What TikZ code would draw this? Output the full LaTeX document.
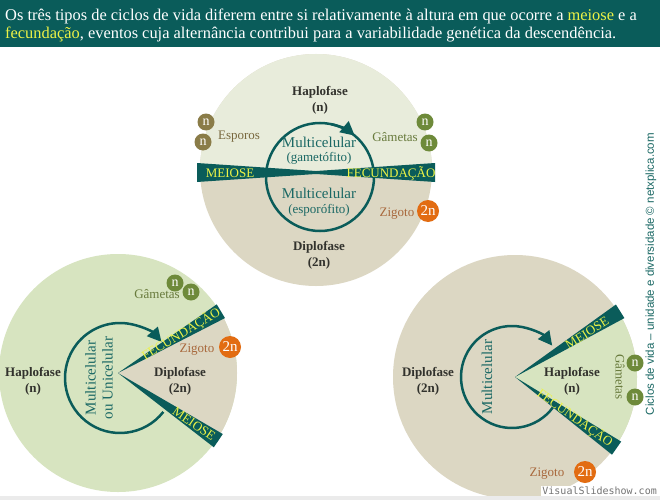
\documentclass[tikz,border=0pt]{standalone}
\usepackage{fontspec}
\setmainfont{Liberation Serif}
\newfontfamily\sidefont{Liberation Sans}
\newfontfamily\wmfont{DejaVu Sans Mono}
\usetikzlibrary{arrows.meta,calc}
\definecolor{tealA}{RGB}{10,92,90}
\definecolor{tealT}{RGB}{26,104,100}
\definecolor{paleG}{RGB}{232,236,219}
\definecolor{greenS}{RGB}{215,228,192}
\definecolor{tanC}{RGB}{220,215,195}
\definecolor{darkT}{RGB}{50,50,45}
\definecolor{yelL}{RGB}{236,242,70}
\definecolor{sporoT}{RGB}{120,104,62}
\definecolor{sporoC}{RGB}{138,124,72}
\definecolor{gamT}{RGB}{104,122,60}
\definecolor{gamC}{RGB}{110,138,58}
\definecolor{zigT}{RGB}{168,104,60}
\definecolor{zigC}{RGB}{226,108,18}
\tikzset{
  bandlbl/.style={text=yelL, inner sep=0pt, font=\fontsize{13}{13}\selectfont},
  phase/.style={text=darkT, align=center, font=\bfseries\fontsize{13}{16}\selectfont},
  innertxt/.style={text=tealT, align=center},
  ncirc/.style={circle, text=white, minimum size=17pt, inner sep=0pt, font=\fontsize{14}{14}\selectfont},
  zcirc/.style={circle, fill=zigC, text=white, minimum size=22pt, inner sep=0pt, font=\fontsize{15}{15}\selectfont},
  lbl/.style={inner sep=0pt, font=\fontsize{13}{13}\selectfont},
  cyc/.style={draw=tealA, line width=2.5pt},
  cycarr/.style={draw=tealA, line width=2.5pt, -{Triangle[length=14pt,width=14pt]}}
}
\begin{document}
\begin{tikzpicture}[x=1pt,y=-1pt]
\useasboundingbox (0,0) rectangle (660,500);
\fill[white] (0,0) rectangle (660,500);
% header
\fill[tealA] (0,0) rectangle (660,47);
\node[anchor=base west, text=white, inner sep=0pt, font=\fontsize{16.4}{16.4}\selectfont] (h1) at (5,21)
  {Os três tipos de ciclos de vida diferem entre si relativamente à altura em que ocorre a \textcolor{yelL}{meiose} e a};
\node[anchor=base west, text=white, inner sep=0pt, font=\fontsize{16.4}{16.4}\selectfont] (h2) at (5,39)
  {\textcolor{yelL}{fecundação}, eventos cuja alternância contribui para a variabilidade genética da descendência.};

% ---------- top circle ----------
\coordinate (T) at (316,170);
\fill[tanC] (T) circle (116);
\begin{scope}
  \clip (0,0) rectangle (660,172);
  \fill[paleG] (T) circle (116);
\end{scope}
\fill[tealA] (197,163) -- (197,182) -- (338,172.5) -- cycle;
\fill[tealA] (435,163) -- (435,182) -- (294,172.5) -- cycle;
\coordinate (Ti) at (320,177);
\draw[cyc] (Ti) circle (54);
\draw[cycarr] ($(Ti)+(-78:54)$) arc[start angle=-78, end angle=-50, radius=54];
\node[bandlbl] (tmei) at (230,173) {MEIOSE};
\node[bandlbl] (tfec) at (391,173) {FECUNDAÇÃO};
\node[phase] (thap) at (320,100) {Haplofase\\(n)};
\node[phase] (tdip) at (319,255) {Diplofase\\(2n)};
\node[innertxt, font=\fontsize{15}{15}\selectfont] (tm1) at (319,142) {Multicelular};
\node[innertxt, font=\fontsize{13}{13}\selectfont] (tg1) at (319,158) {(gametófito)};
\node[innertxt, font=\fontsize{15}{15}\selectfont] (tm2) at (319,193) {Multicelular};
\node[innertxt, font=\fontsize{13}{13}\selectfont] (tg2) at (319,210) {(esporófito)};
\node[lbl, text=sporoT] (tesp) at (239,137) {Esporos};
\node[ncirc, fill=sporoC] (tn1) at (206,122) {n};
\node[ncirc, fill=sporoC] (tn2) at (203,142) {n};
\node[lbl, text=gamT] (tgam) at (395,137) {Gâmetas};
\node[ncirc, fill=gamC] (tn3) at (425,122) {n};
\node[ncirc, fill=gamC] (tn4) at (429,143) {n};
\node[lbl, text=zigT] (tzig) at (397,214) {Zigoto};
\node[zcirc] (tz) at (428,211) {2n};

% ---------- left circle ----------
\coordinate (L) at (118,373);
\fill[greenS] (L) circle (119);
\fill[tanC] (L) -- ($(L)+(-31:119)$) arc[start angle=-31, end angle=31, radius=119] -- cycle;
\fill[tealA] (L) -- ($(L)+(-31:120)+(59:8)$) -- ($(L)+(-31:120)+(-121:8)$) -- cycle;
\fill[tealA] (L) -- ($(L)+(34:121)+(124:8)$) -- ($(L)+(34:121)+(-56:8)$) -- cycle;
\coordinate (Li) at (120,378);
\draw[cycarr] ($(Li)+(38:55)$) arc[start angle=38, end angle=319, radius=55];
\node[bandlbl, rotate=31] (lfec) at (181,334) {FECUNDAÇÃO};
\node[bandlbl, rotate=-34] (lmei) at (194,424) {MEIOSE};
\node[phase] (lhap) at (33,381) {Haplofase\\(n)};
\node[phase] (ldip) at (180,381) {Diplofase\\(2n)};
\node[innertxt, rotate=90, font=\fontsize{15}{17}\selectfont] (lmu) at (99,378) {Multicelular\\ou Unicelular};
\node[lbl, text=gamT] (lgam) at (157,294) {Gâmetas};
\node[ncirc, fill=gamC] (ln1) at (175,283) {n};
\node[ncirc, fill=gamC] (ln2) at (191,292) {n};
\node[lbl, text=zigT] (lzig) at (197,350) {Zigoto};
\node[zcirc] (lz) at (230,347) {2n};

% ---------- right circle ----------
\coordinate (R) at (515,377);
\fill[tanC] (R) circle (122);
\fill[greenS] (R) -- ($(R)+(-32:122)$) arc[start angle=-32, end angle=35, radius=122] -- cycle;
\fill[tealA] (R) -- ($(R)+(-32:124)+(58:8)$) -- ($(R)+(-32:124)+(-122:8)$) -- cycle;
\fill[tealA] (R) -- ($(R)+(35:124)+(125:8)$) -- ($(R)+(35:124)+(-55:8)$) -- cycle;
\coordinate (Ri) at (512,377);
\draw[cycarr] ($(Ri)+(36:51)$) arc[start angle=36, end angle=322, radius=51];
\node[bandlbl, rotate=32] (rmei) at (587,333) {MEIOSE};
\node[bandlbl, rotate=-35] (rfec) at (575,418) {FECUNDAÇÃO};
\node[phase] (rdip) at (428,381) {Diplofase\\(2n)};
\node[phase] (rhap) at (572,381) {Haplofase\\(n)};
\node[innertxt, rotate=90, font=\fontsize{15}{15}\selectfont] (rmu) at (487,377) {Multicelular};
\node[lbl, text=gamT, rotate=-90] (rgam) at (620,377) {Gâmetas};
\node[ncirc, fill=gamC] (rn1) at (635,363) {n};
\node[ncirc, fill=gamC] (rn2) at (635,397) {n};
\node[lbl, text=zigT] (rzig) at (547,474) {Zigoto};
\node[zcirc] (rz) at (585,472) {2n};

% side text and watermark
\node[text=tealT, rotate=90, inner sep=0pt, font=\sidefont\fontsize{11.5}{11.5}\selectfont] (side) at (651,274)
  {Ciclos de vida – unidade e diversidade © netxplica.com};
\fill[black!8] (0,496) rectangle (660,500);
\node[fill=white, text=black!55, inner sep=1pt, anchor=south east, font=\wmfont\fontsize{10}{10}\selectfont] (wm) at (658,496) {VisualSlideshow.com};
\end{tikzpicture}
\end{document}
